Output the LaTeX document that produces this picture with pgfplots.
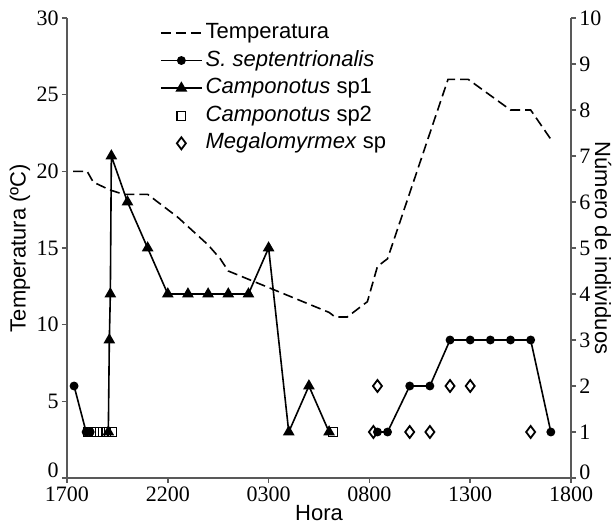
\documentclass[border=0pt]{standalone}
\usepackage{fontspec}
\setmainfont{Liberation Serif}
\setsansfont{Liberation Sans}
\usepackage{pgfplots}
\pgfplotsset{compat=1.18}
\begin{document}
\begin{tikzpicture}
\pgfplotsset{
  base/.style={
    width=252pt, height=230pt, scale only axis,
    xmin=0, xmax=25,
    at={(0,0)}, anchor=south west,
    /pgf/number format/assume math mode=true,
    tick align=outside, major tick length=2.5pt,
    axis line style={black!65, line width=1pt},
    tick style={black!65, line width=0.8pt},
    ticklabel style={font=\fontsize{11}{13}\selectfont, inner sep=1.5pt},
    label style={font=\sffamily\fontsize{11}{13}\selectfont},
  }
}
\begin{axis}[base,
  axis y line*=left, axis x line*=bottom,
  ymin=0, ymax=30, ytick={5,10,...,30},
  extra y ticks={0}, extra y tick style={yticklabel style={yshift=4pt}},
  xtick={0,5,10,15,20,25},
  xticklabels={1700,2200,0300,0800,1300,1800},
  xlabel={Hora}, ylabel={Temperatura (ºC)},
  xlabel style={at={(axis description cs:0.5,-0.0761)}, anchor=center},
  ylabel style={at={(axis description cs:-0.0933,0.5)}, anchor=center},
]
\addplot[black, line width=0.8pt, dash pattern=on 5pt off 2.5pt] coordinates {
 (0.3,20.0) (1.0,20.0) (1.3,19.3) (2.1,18.8) (2.8,18.5) (4.0,18.5)
 (5.5,17.0) (6.75,15.5) (7.0,15.2) (7.6,14.3) (8.0,13.5)
 (13.0,10.8) (13.3,10.5) (13.9,10.5) (14.9,11.5) (15.4,13.8) (15.9,14.3)
 (18.9,26.0) (19.9,26.0) (22.0,24.0) (23.0,24.0) (24.1,21.9)
};
\end{axis}
\begin{axis}[base,
  axis y line*=right, axis x line=none,
  ymin=0, ymax=10, ytick={1,2,...,10},
  extra y ticks={0}, extra y tick style={yticklabel style={yshift=3pt}},
  ylabel={Número de individuos},
  ylabel style={rotate=180, at={(axis description cs:1.0635,0.5)}, anchor=center},
  unbounded coords=jump,
  legend style={at={(0.172,1.0065)}, anchor=north west, draw=none, fill=none,
    font=\sffamily\fontsize{11}{13}\selectfont, row sep=0.3pt,
    nodes={inner sep=1.5pt, text height=8pt, text depth=2.5pt}},
  legend cell align=left,
  legend image code/.code={\draw[mark repeat=2,mark phase=2,#1] plot coordinates {(0cm,0cm) (0.36cm,0cm) (0.72cm,0cm)};},
]
\addlegendimage{black, line width=0.8pt, dash pattern=on 5pt off 2.5pt}
\addlegendentry{Temperatura}
\addplot[black, line width=0.8pt, mark=*, mark size=1.8pt] coordinates {
 (0.35,2) (0.95,1) (1.15,1) (nan,nan)
 (15.4,1) (15.9,1) (17,2) (18,2) (19,3) (20,3) (21,3) (22,3) (23,3) (24,1)
};
\addlegendentry{\textit{S. septentrionalis}}
\addplot[black, line width=0.8pt, mark=triangle*, mark size=2.6pt] coordinates {
 (2.05,1) (2.1,3) (2.15,4) (2.2,7) (3,6) (4,5) (5,4) (6,4) (7,4) (8,4) (9,4)
 (10,5) (11,1) (12,2) (13,1)
};
\addlegendentry{\textit{Camponotus} sp1}
\addplot[only marks, black, mark=square, mark size=2.2pt, mark options={line width=0.6pt}] coordinates {
 (1.05,1) (1.35,1) (1.65,1) (1.95,1) (2.25,1) (13.2,1)
};
\addlegendentry{\textit{Camponotus} sp2}
\addplot[only marks, black, mark=diamond, mark size=3pt, mark options={line width=0.9pt}] coordinates {
 (15.2,1) (15.4,2) (17,1) (18,1) (19,2) (20,2) (23,1)
};
\addlegendentry{\textit{Megalomyrmex} sp}
\end{axis}
\pgfresetboundingbox
\useasboundingbox (-33.5pt,-23pt) rectangle (274.5pt,239pt);
\end{tikzpicture}
\end{document}
